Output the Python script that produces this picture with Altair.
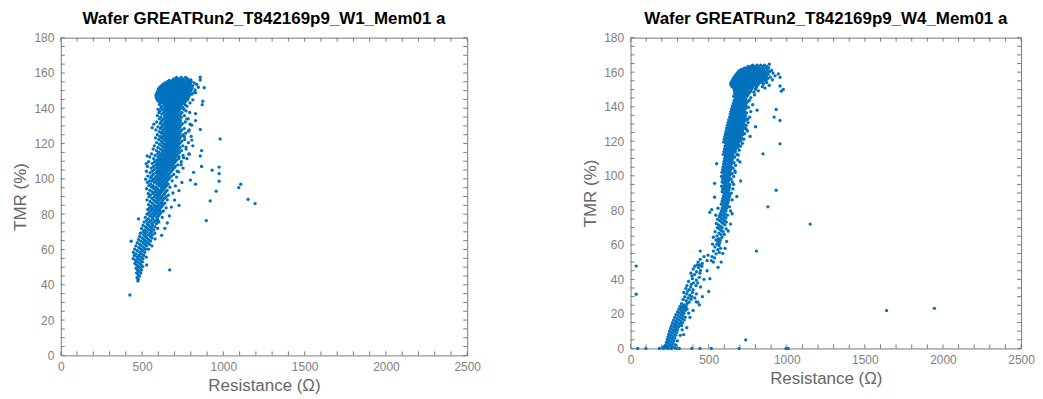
import altair as alt
import pandas as pd

# ---------------- data ----------------
# W1 : rows of (TMR %, [resistance values in ohm])
w1_rows = [
    (157.5, [712, 741, 768]),
    (156.6, [694, 709, 727, 752, 779]),
    (155.8, [668, 688, 703, 721, 736, 744, 761, 790]),
    (155.0, [655, 679, 693, 712, 729, 748, 770, 783, 803]),
    (154.3, [640, 662, 671, 690, 707, 719, 733, 757, 774, 792, 821]),
    (153.5, [628, 649, 666, 680, 698, 714, 726, 740, 752, 766, 781, 798, 836]),
    (152.7, [618, 636, 651, 659, 676, 693, 705, 718, 731, 745, 760, 773, 789, 811]),
    (151.9, [610, 627, 642, 661, 668, 684, 699, 711, 723, 738, 751, 763, 779, 794, 846]),
    (151.2, [603, 619, 633, 650, 664, 679, 690, 704, 716, 729, 742, 756, 770, 785, 807]),
    (150.4, [600, 611, 628, 644, 655, 671, 686, 697, 709, 722, 735, 749, 761, 776, 801, 826]),
    (149.6, [596, 608, 621, 637, 651, 662, 678, 691, 703, 715, 727, 741, 754, 768, 783, 797]),
    (148.8, [592, 603, 617, 631, 645, 657, 669, 684, 695, 708, 720, 733, 747, 760, 775, 792, 818]),
    (148.0, [588, 600, 612, 626, 640, 652, 666, 677, 689, 701, 714, 726, 739, 752, 766, 780, 805]),
    (147.2, [586, 598, 609, 623, 636, 648, 660, 673, 684, 696, 710, 723, 735, 746, 759, 774, 790]),
    (146.4, [587, 597, 613, 627, 641, 655, 664, 679, 692, 705, 717, 729, 742, 757, 771, 786]),
    (145.6, [590, 602, 616, 630, 644, 659, 671, 686, 699, 711, 725, 738, 751, 765, 782]),
    (144.8, [594, 608, 624, 637, 652, 668, 681, 694, 706, 719, 732, 746, 762, 779, 812]),
    (143.9, [601, 619, 633, 649, 663, 677, 691, 705, 720, 734, 749, 768]),
    (143.0, [612, 629, 646, 660, 673, 688, 703, 716, 730, 744, 759, 795]),
    (142.1, [607, 637, 653, 667, 682, 697, 712, 727, 741, 763]),
    (141.2, [622, 645, 661, 677, 692, 707, 721, 739, 776]),
    (140.3, [616, 640, 657, 671, 686, 703, 718, 734, 752]),
    (139.4, [598, 628, 651, 666, 683, 699, 716, 733, 757]),
    (138.5, [612, 641, 660, 677, 694, 709, 727, 770]),
    (137.6, [604, 633, 654, 670, 688, 704, 721, 745, 793]),
    (136.7, [621, 647, 664, 681, 697, 714, 737]),
    (135.8, [595, 638, 658, 673, 691, 708, 727, 760]),
    (134.9, [615, 644, 662, 684, 700, 719, 741]),
    (134.0, [606, 632, 652, 669, 687, 705, 724, 784]),
    (133.1, [624, 648, 664, 680, 698, 715, 736]),
    (132.2, [590, 617, 642, 659, 676, 692, 711, 731, 766]),
    (131.3, [611, 636, 654, 671, 689, 707, 725, 748]),
    (130.4, [627, 649, 665, 683, 701, 718, 739, 805]),
    (129.5, [598, 620, 643, 660, 677, 695, 713, 733]),
    (128.6, [613, 638, 655, 672, 690, 708, 727, 759]),
    (127.7, [585, 630, 651, 667, 685, 703, 721, 744, 790]),
    (126.8, [606, 624, 646, 663, 680, 698, 716, 736]),
    (125.9, [619, 640, 658, 675, 693, 711, 731, 768]),
    (125.0, [594, 633, 652, 670, 688, 705, 725, 752]),
    (124.1, [610, 627, 647, 664, 682, 700, 719, 740, 802]),
    (123.2, [583, 620, 641, 659, 677, 695, 714, 733]),
    (122.3, [603, 633, 652, 671, 689, 707, 727, 762]),
    (121.4, [617, 645, 664, 683, 701, 720, 745]),
    (120.5, [590, 627, 656, 676, 694, 713, 734, 785]),
    (119.6, [608, 638, 650, 668, 688, 706, 726]),
    (118.7, [575, 621, 643, 661, 680, 699, 718, 750, 812]),
    (117.8, [598, 632, 654, 673, 692, 711, 733]),
    (116.9, [568, 613, 645, 665, 684, 703, 724, 771]),
    (116.0, [589, 625, 637, 657, 676, 696, 716, 742]),
    (115.1, [604, 628, 649, 668, 688, 708, 730]),
    (114.2, [558, 596, 620, 641, 661, 680, 700, 721, 789]),
    (113.3, [580, 611, 633, 653, 673, 692, 714, 752]),
    (112.4, [547, 598, 624, 645, 665, 685, 706, 728]),
    (111.5, [571, 607, 616, 637, 657, 677, 698, 725, 776]),
    (110.6, [590, 608, 629, 649, 669, 690, 712]),
    (109.7, [540, 577, 601, 621, 641, 661, 682, 704, 741]),
    (108.8, [563, 593, 613, 633, 654, 674, 696]),
    (107.9, [585, 605, 625, 646, 666, 688, 720]),
    (107.0, [533, 571, 597, 618, 638, 659, 680, 704]),
    (106.1, [556, 589, 610, 630, 651, 672, 697, 752]),
    (105.2, [575, 602, 622, 643, 664, 688]),
    (104.3, [527, 563, 594, 614, 635, 656, 680, 716]),
    (103.4, [549, 584, 606, 627, 648, 672]),
    (102.5, [569, 598, 619, 640, 663, 695]),
    (101.6, [536, 559, 589, 611, 632, 655, 681]),
    (100.7, [553, 580, 603, 624, 647, 668]),
    (99.8, [522, 570, 595, 616, 639, 662]),
    (98.9, [546, 562, 587, 608, 631, 653, 685]),
    (98.0, [533, 576, 600, 623, 646]),
    (97.1, [553, 592, 614, 637, 660]),
    (96.2, [541, 568, 604, 628, 651]),
    (95.3, [559, 584, 618, 642, 671]),
    (94.4, [528, 572, 596, 621, 634]),
    (93.5, [548, 588, 611, 627, 654]),
    (92.6, [562, 579, 603, 619, 645]),
    (91.7, [538, 569, 594, 612, 638]),
    (90.8, [552, 585, 606, 630, 662]),
    (89.9, [543, 575, 599, 621, 648]),
    (89.0, [560, 590, 613, 637]),
    (88.1, [530, 571, 604, 628, 655]),
    (87.2, [549, 582, 597, 621]),
    (86.3, [562, 592, 614, 640]),
    (85.4, [540, 573, 606, 629]),
    (84.5, [555, 583, 598, 622]),
    (83.6, [546, 569, 591, 613, 648]),
    (82.7, [535, 561, 584, 606]),
    (81.8, [553, 577, 599, 631]),
    (80.9, [542, 570, 592, 616]),
    (80.0, [531, 560, 585, 608]),
    (79.1, [548, 575, 601]),
    (78.2, [520, 562, 590, 624]),
    (77.3, [478, 539, 567, 595]),
    (76.4, [527, 555, 583]),
    (75.5, [512, 545, 572, 603]),
    (74.6, [531, 560, 588]),
    (73.7, [506, 540, 566]),
    (72.8, [522, 552, 580]),
    (71.9, [497, 533, 561, 596]),
    (71.0, [515, 546, 573]),
    (70.1, [506, 529, 558]),
    (69.2, [490, 520, 548, 578]),
    (68.3, [509, 536, 564]),
    (67.4, [485, 520, 551]),
    (66.5, [501, 530, 560]),
    (65.6, [478, 512, 540]),
    (64.7, [433, 493, 522, 552]),
    (63.8, [470, 507, 534]),
    (62.9, [486, 517, 545]),
    (62.0, [462, 498, 527]),
    (61.1, [480, 510]),
    (60.2, [455, 492, 521, 540]),
    (59.3, [471, 503]),
    (58.4, [447, 486, 516]),
    (57.5, [463, 497]),
    (56.6, [452, 480, 510]),
    (55.7, [468, 493, 526]),
    (54.8, [445, 477, 505]),
    (53.9, [460, 490]),
    (53.0, [472, 502]),
    (52.1, [456, 485]),
    (51.2, [466, 495, 528]),
    (50.3, [478, 504]),
    (49.4, [463, 489]),
    (48.5, [472, 497]),
    (47.6, [480]),
    (46.7, [466, 492]),
    (45.8, [476]),
    (44.9, [484]),
    (44.0, [469]),
    (43.1, [477]),
    (42.2, [474]),
]
# W1 isolated / sparse points (resistance, TMR)
w1_outliers = [
    (425, 34.2), (670, 48.4), (895, 76.4), (919, 87.5), (956, 93), (1095, 95),
    (1107, 97), (1152, 88.4), (1195, 86), (980, 122.6), (974, 106.7), (974, 103),
    (974, 98.7), (931, 104.9), (817, 103.7), (829, 97), (797, 99.3), (727, 93.3),
    (727, 85), (866, 107), (866, 116), (858, 113), (858, 128), (829, 133),
    (829, 137), (870, 142), (874, 144), (882, 151.6), (858, 156), (858, 157.6),
    (800, 156), (829, 148.8),
    (700, 88), (690, 92), (705, 96), (680, 84), (712, 101), (725, 104),
    (740, 108), (755, 112), (770, 118), (760, 124), (785, 127), (795, 131),
    (775, 134), (806, 122), (790, 114), (745, 98), (668, 79), (655, 75),
    (640, 72), (620, 68), (610, 82), (690, 106), (700, 110), (580, 66),
    (600, 76), (625, 86), (560, 62), (531, 113), (525, 108.6), (562, 129),
    (572, 131),
]

# W4 : rows of (TMR %, [resistance values in ohm])
w4_rows = [
    (164.6, [888]),
    (164.0, [781, 809, 833, 857]),
    (163.3, [752, 770, 792, 818, 842, 871]),
    (162.5, [730, 748, 764, 783, 801, 822, 844, 866, 885]),
    (161.8, [712, 728, 744, 761, 777, 795, 812, 830, 851, 874]),
    (161.0, [699, 716, 733, 749, 764, 781, 798, 815, 833, 852, 877, 903]),
    (160.3, [690, 706, 721, 738, 755, 771, 788, 806, 823, 842, 861, 889]),
    (159.5, [683, 697, 713, 729, 745, 762, 779, 796, 812, 830, 849, 870, 912]),
    (158.7, [676, 690, 705, 722, 738, 754, 770, 787, 803, 821, 839, 857, 881]),
    (157.9, [670, 684, 700, 716, 731, 747, 763, 779, 795, 811, 829, 848, 870, 925]),
    (157.1, [664, 679, 695, 710, 725, 741, 757, 773, 789, 805, 822, 840, 861, 894]),
    (156.4, [659, 673, 688, 703, 718, 734, 750, 766, 782, 798, 815, 833, 852, 878]),
    (155.6, [654, 667, 683, 697, 712, 728, 744, 760, 776, 792, 809, 827, 846, 869, 908]),
    (154.8, [648, 662, 677, 692, 707, 723, 738, 754, 770, 786, 803, 821, 842, 863]),
    (154.0, [644, 658, 673, 688, 703, 718, 733, 749, 765, 781, 799, 817, 838, 872]),
    (153.2, [642, 656, 670, 685, 700, 715, 730, 746, 762, 779, 797, 819, 851]),
    (152.4, [645, 660, 675, 690, 705, 721, 737, 753, 770, 789, 812, 888]),
    (151.6, [651, 666, 682, 697, 713, 729, 745, 762, 782, 806, 844]),
    (150.8, [659, 675, 691, 707, 723, 740, 757, 778, 803, 860]),
    (150.0, [668, 684, 700, 716, 733, 751, 772, 799]),
    (149.2, [664, 679, 694, 711, 728, 747, 770, 818]),
    (148.4, [672, 688, 705, 722, 740, 763, 790]),
    (147.6, [666, 684, 700, 717, 735, 756]),
    (146.8, [676, 693, 711, 729, 751, 794]),
    (146.0, [660, 686, 703, 721, 744]),
    (145.2, [671, 690, 708, 727, 770]),
    (144.4, [682, 699, 718, 739]),
    (143.6, [663, 677, 693, 712, 733, 760]),
    (142.8, [672, 687, 705, 724, 748]),
    (142.0, [658, 681, 698, 717, 739]),
    (141.2, [668, 690, 709, 730, 782]),
    (140.4, [652, 677, 697, 716, 741]),
    (139.6, [663, 684, 703, 724, 755]),
    (138.8, [647, 671, 691, 711, 735]),
    (138.0, [658, 680, 699, 720, 810]),
    (137.2, [642, 667, 687, 706, 730, 770]),
    (136.4, [653, 676, 695, 716, 742]),
    (135.6, [639, 662, 683, 703, 725]),
    (134.8, [648, 671, 691, 712, 736]),
    (134.0, [634, 657, 679, 700, 722, 763]),
    (133.2, [645, 666, 687, 708, 733]),
    (132.4, [628, 653, 674, 695, 718, 745]),
    (131.6, [640, 662, 683, 704, 728]),
    (130.8, [624, 649, 671, 692, 715, 752]),
    (130.0, [636, 658, 680, 701, 726]),
    (129.2, [620, 645, 667, 688, 711, 740]),
    (128.4, [632, 655, 676, 698, 722, 800]),
    (127.6, [615, 642, 664, 686, 709, 735]),
    (126.8, [628, 652, 673, 695, 719]),
    (126.0, [611, 639, 661, 682, 705, 748]),
    (125.2, [624, 648, 670, 692, 716]),
    (124.4, [607, 635, 658, 679, 702, 730]),
    (123.6, [620, 644, 666, 689, 713]),
    (122.8, [603, 631, 654, 676, 699, 765]),
    (122.0, [616, 641, 663, 686, 710]),
    (121.2, [600, 628, 651, 673, 697, 725]),
    (120.4, [612, 638, 660, 683, 706]),
    (119.6, [596, 624, 648, 670, 694]),
    (118.8, [609, 635, 657, 680, 716]),
    (118.0, [620, 645, 667, 691]),
    (117.2, [605, 631, 654, 677, 705]),
    (116.4, [616, 642, 664, 688]),
    (115.6, [601, 627, 651, 674]),
    (114.8, [612, 638, 661, 695]),
    (114.0, [598, 624, 648, 671]),
    (113.2, [609, 635, 658]),
    (112.4, [594, 620, 645, 680]),
    (111.6, [606, 632, 656]),
    (110.8, [617, 642, 667]),
    (110.0, [602, 628, 653]),
    (109.2, [613, 639, 686]),
    (108.4, [599, 625, 650]),
    (107.6, [610, 636, 662]),
    (106.8, [595, 621, 647]),
    (106.0, [607, 633, 672]),
    (105.2, [592, 618, 644]),
    (104.4, [604, 630, 656]),
    (103.6, [589, 615, 641]),
    (102.8, [600, 627, 668]),
    (102.0, [585, 612, 638]),
    (101.2, [597, 624, 650]),
    (100.4, [608, 635]),
    (99.6, [582, 594, 621, 660]),
    (98.8, [605, 632]),
    (98.0, [590, 617, 643]),
    (97.2, [602, 628]),
    (96.4, [586, 613, 651]),
    (95.6, [538, 598, 625]),
    (94.8, [609, 636]),
    (94.0, [583, 595, 620]),
    (93.2, [606, 633]),
    (92.4, [590, 617, 655]),
    (91.6, [602, 629]),
    (90.8, [586, 613]),
    (90.0, [598, 625, 645]),
    (89.2, [609, 636]),
    (88.4, [594, 621]),
    (87.6, [538, 605, 632]),
    (86.8, [590, 617]),
    (86.0, [601, 628, 650]),
    (85.2, [586, 613]),
    (84.4, [597, 624]),
    (83.6, [580, 608]),
    (82.8, [592, 619]),
    (82.0, [603, 633]),
    (81.2, [560, 587, 614]),
    (80.4, [519, 598]),
    (79.6, [581, 611, 640]),
    (78.8, [507, 593]),
    (78.0, [574, 604]),
    (77.2, [546, 586, 620]),
    (76.4, [568, 598]),
    (75.6, [579, 610]),
    (74.8, [557, 590]),
    (74.0, [571, 602]),
    (73.2, [582, 613]),
    (72.4, [549, 593]),
    (71.6, [562, 604]),
    (70.8, [575]),
    (70.0, [556, 587]),
    (69.2, [568, 612]),
    (68.4, [580]),
    (67.6, [541, 592]),
    (66.8, [566]),
    (66.0, [578, 600]),
    (65.2, [553]),
    (64.4, [530, 585]),
    (63.6, [563]),
    (62.8, [547, 575]),
    (62.0, [559]),
    (61.2, [571]),
    (60.4, [525, 553]),
    (59.6, [566]),
    (58.8, [540]),
    (58.0, [576]),
    (57.2, [558]),
    (56.4, [446, 531]),
    (55.6, [568]),
    (54.8, [547]),
    (54.0, [496]),
    (53.2, [470, 522]),
    (52.4, [538]),
    (51.6, [446]),
    (50.8, [490, 517]),
    (50.0, [432, 530]),
    (49.2, [459]),
    (48.4, [426, 441]),
    (47.6, [412, 456]),
    (46.8, [435]),
    (46.0, [401]),
    (45.2, [447]),
    (44.4, [422]),
    (43.6, [386, 444]),
    (42.8, [410]),
    (42.0, [393]),
    (41.2, [440]),
    (40.4, [396, 508]),
    (39.6, [421]),
    (38.8, [371]),
    (38.0, [404, 430]),
    (37.2, [389]),
    (36.4, [361, 419]),
    (35.6, [385, 448]),
    (34.8, [354]),
    (34.0, [376, 400]),
    (33.2, [366]),
    (32.4, [341, 396]),
    (31.6, [360, 421]),
    (30.8, [380]),
    (30.0, [347, 392]),
    (29.2, [369, 411]),
    (28.4, [336, 387]),
    (27.6, [356]),
    (26.8, [374, 430]),
    (26.0, [326, 362]),
    (25.2, [343, 440]),
    (24.4, [317, 336, 356]),
    (23.6, [326, 347]),
    (22.8, [309, 338, 362]),
    (22.0, [321, 349]),
    (21.2, [300, 331]),
    (20.4, [313, 342, 372]),
    (19.6, [291, 325]),
    (18.8, [305, 336]),
    (18.0, [283, 317, 350]),
    (17.2, [297, 329]),
    (16.4, [275, 309, 343]),
    (15.6, [290, 321]),
    (14.8, [268, 301, 333]),
    (14.0, [282, 314]),
    (13.2, [262, 294, 327]),
    (12.4, [276, 307]),
    (11.6, [256, 288]),
    (10.8, [270, 301, 330]),
    (10.0, [250, 282]),
    (9.2, [264, 296]),
    (8.4, [245, 277]),
    (7.6, [258, 289, 318]),
    (6.8, [240, 271]),
    (6.0, [253, 283]),
    (5.2, [235, 266]),
    (4.4, [248, 278, 300]),
    (3.6, [230, 260]),
    (2.8, [243, 272]),
    (2.0, [225, 255, 288]),
    (1.2, [216, 238, 266]),
    (0.4, [204, 230, 258, 282]),
    (0.0, [185, 212, 240, 262, 296, 312]),
]
# W4 isolated / sparse points (resistance, TMR)
w4_outliers = [
    (36, 47.7), (36, 31.4), (806, 56.4), (879, 82), (932, 91.6), (1150, 72),
    (1639, 21.9), (1945, 23.2), (737, 5), (957, 118.5), (957, 132), (919, 134),
    (932, 138.4), (848, 112.7), (551, 107), (46, 0), (98, 0), (392, 0), (444, 0),
    (517, 0), (695, 0), (995, 0), (1009, 0), (978, 150), (957, 152), (946, 159),
    (957, 157), (965, 149),
    (660, 95), (670, 102), (680, 88), (690, 112), (700, 108), (650, 78),
    (640, 72), (625, 68), (615, 62), (605, 58), (590, 55), (720, 124),
    (740, 127), (750, 133), (705, 97), (580, 50), (560, 47), (470, 40),
    (490, 45), (500, 33), (460, 30), (420, 27), (400, 22), (380, 18),
    (360, 12), (340, 8),
]

titles = ["Wafer GREATRun2_T842169p9_W1_Mem01 a",
          "Wafer GREATRun2_T842169p9_W4_Mem01 a"]
x_title = "Resistance (Ω)"
y_title = "TMR (%)"
x_label_values = [0, 500, 1000, 1500, 2000, 2500]
y_label_values = [0, 20, 40, 60, 80, 100, 120, 140, 160, 180]
x_tick_values = list(range(0, 2501, 100))
y_tick_values = list(range(0, 181, 5))

# ---------------- styling ----------------
FONT = "Liberation Sans"
DOT = "#0072BD"
FRAME = "#7a7a7a"
TICK_LEN = 4


def to_frame(rows, extra):
    recs = [(r, t) for t, rs in rows for r in rs] + list(extra)
    return pd.DataFrame(recs, columns=["R", "TMR"])


def panel(df, title, w, h):
    xs = alt.Scale(domain=[0, 2500], nice=False, zero=False)
    ys = alt.Scale(domain=[0, 180], nice=False, zero=False)
    xa = alt.Axis(values=x_label_values, format="d", labelOverlap=False,
                  labelFlush=False, labelPadding=6, titlePadding=5)
    ya = alt.Axis(values=y_label_values, format="d", labelOverlap=False,
                  labelFlush=False, labelPadding=7, titlePadding=4)

    def X(f):
        return alt.X(f, type="quantitative", scale=xs, axis=xa, title=x_title)

    def Y(f):
        return alt.Y(f, type="quantitative", scale=ys, axis=ya, title=y_title)

    pts = alt.Chart(df).mark_circle(size=11, color=DOT, opacity=1).encode(
        x=X("R"), y=Y("TMR"))
    xt = pd.DataFrame({"v": x_tick_values})
    yt = pd.DataFrame({"v": y_tick_values})
    rule = dict(color=FRAME, strokeWidth=1)
    xb = alt.Chart(xt).mark_rule(**rule).encode(
        x=X("v"), y=alt.value(h), y2=alt.value(h - TICK_LEN))
    xtp = alt.Chart(xt).mark_rule(**rule).encode(
        x=X("v"), y=alt.value(0), y2=alt.value(TICK_LEN))
    yl = alt.Chart(yt).mark_rule(**rule).encode(
        y=Y("v"), x=alt.value(0), x2=alt.value(TICK_LEN))
    yr = alt.Chart(yt).mark_rule(**rule).encode(
        y=Y("v"), x=alt.value(w - TICK_LEN), x2=alt.value(w))
    return alt.layer(pts, xb, xtp, yl, yr).properties(
        width=w, height=h, title=title)


left = panel(to_frame(w1_rows, w1_outliers), titles[0], 408, 319)
right = panel(to_frame(w4_rows, w4_outliers), titles[1], 392, 312)

chart = alt.hconcat(left, right, spacing=100).properties(
    padding={"left": 3, "top": 0, "right": 0, "bottom": 0}
).configure_view(
    stroke=FRAME, strokeWidth=1
).configure_axis(
    grid=False, domain=False, ticks=False,
    labelFont=FONT, labelFontSize=12, labelColor="#808080",
    titleFont=FONT, titleFontSize=17, titleFontWeight="normal",
    titleColor="#666666",
).configure_title(
    font=FONT, fontSize=17, fontWeight="bold", color="#000000", offset=0,
)

chart.save("out.html", embed_options={"renderer": "svg", "actions": False})
